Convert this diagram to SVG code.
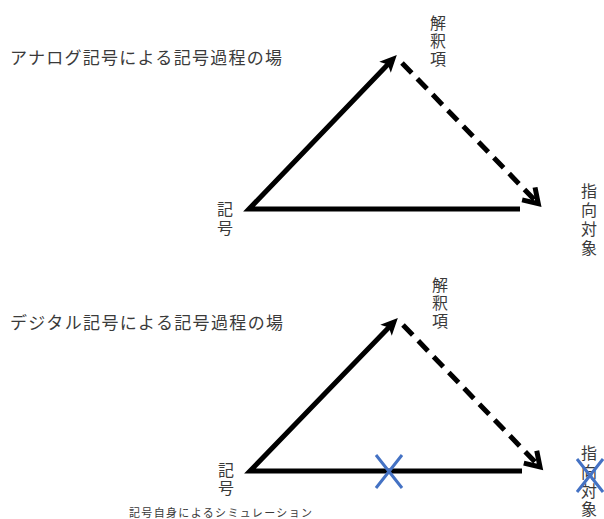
<svg xmlns="http://www.w3.org/2000/svg" width="604" height="519" viewBox="0 0 604 519">
  <style>
    .t { font-family: "Noto Sans CJK JP", "Noto Sans", sans-serif; fill: #3a3a3a; }
    .title { font-size: 17px; }
    .lbl { font-size: 16px; text-anchor: middle; }
    .cap { font-size: 11px; }
    .solid { fill: none; stroke: #000; stroke-width: 5; stroke-linejoin: miter; }
    .dash { fill: none; stroke: #000; stroke-width: 5; stroke-dasharray: 14 8; }
    .cross { fill: none; stroke: #4472C4; stroke-width: 3; }
  </style>
  <defs>
    <marker id="headFilled" markerUnits="userSpaceOnUse" orient="auto" refX="0" refY="0" markerWidth="30" markerHeight="30" overflow="visible">
      <path d="M12,0 L-5,-8 L-1,0 L-5,8 Z" fill="#000"/>
    </marker>
    <marker id="headOpen" markerUnits="userSpaceOnUse" orient="auto" refX="0" refY="0" markerWidth="30" markerHeight="30" overflow="visible">
      <path d="M-14,-9 L0,0 L-14,9" fill="none" stroke="#000" stroke-width="5" stroke-linejoin="miter"/>
    </marker>
  </defs>

  <!-- Top diagram: analog -->
  <g id="title-analog">
    <text class="t title" x="10" y="64" textLength="272" lengthAdjust="spacing">アナログ記号による記号過程の場</text>
  </g>
  <g id="sign-top">
    <text class="t lbl" x="225" y="215">記</text>
    <text class="t lbl" x="225" y="234">号</text>
  </g>
  <g id="interpretant-top">
    <text class="t lbl" x="438" y="29">解</text>
    <text class="t lbl" x="438" y="47">釈</text>
    <text class="t lbl" x="438" y="65">項</text>
  </g>
  <g id="object-top">
    <text class="t lbl" x="589" y="197">指</text>
    <text class="t lbl" x="589" y="216">向</text>
    <text class="t lbl" x="589" y="235">対</text>
    <text class="t lbl" x="589" y="254">象</text>
  </g>

  <!-- Bottom diagram: digital -->
  <g id="title-digital">
    <text class="t title" x="10" y="329" textLength="273" lengthAdjust="spacing">デジタル記号による記号過程の場</text>
  </g>
  <g id="sign-bottom">
    <text class="t lbl" x="226" y="476">記</text>
    <text class="t lbl" x="226" y="494">号</text>
  </g>
  <g id="interpretant-bottom">
    <text class="t lbl" x="440" y="291">解</text>
    <text class="t lbl" x="440" y="309">釈</text>
    <text class="t lbl" x="440" y="327">項</text>
  </g>
  <g id="object-bottom">
    <text class="t lbl" x="589" y="459">指</text>
    <text class="t lbl" x="589" y="478">向</text>
    <text class="t lbl" x="589" y="497">対</text>
    <text class="t lbl" x="589" y="515">象</text>
  </g>
  <g id="caption">
    <text class="t cap" x="129" y="517" textLength="183" lengthAdjust="spacing">記号自身によるシミュレーション</text>
  </g>

  <g id="connectors">
    <!-- top -->
    <path class="solid" d="M520,209 L249,209 L388.5,63.7" marker-end="url(#headFilled)"/>
    <path class="dash" d="M402,63 L538.3,203.7" marker-end="url(#headOpen)"/>
    <!-- bottom -->
    <path class="solid" d="M522,471 L250,471 L389.5,326.7" marker-end="url(#headFilled)"/>
    <path class="dash" d="M403,325 L540,467" marker-end="url(#headOpen)"/>
  </g>

  <g id="crosses">
    <path class="cross" d="M376,455 L402,488 M402,455 L376,488"/>
    <path class="cross" d="M577,459 L603,492 M603,459 L577,492"/>
  </g>
</svg>
